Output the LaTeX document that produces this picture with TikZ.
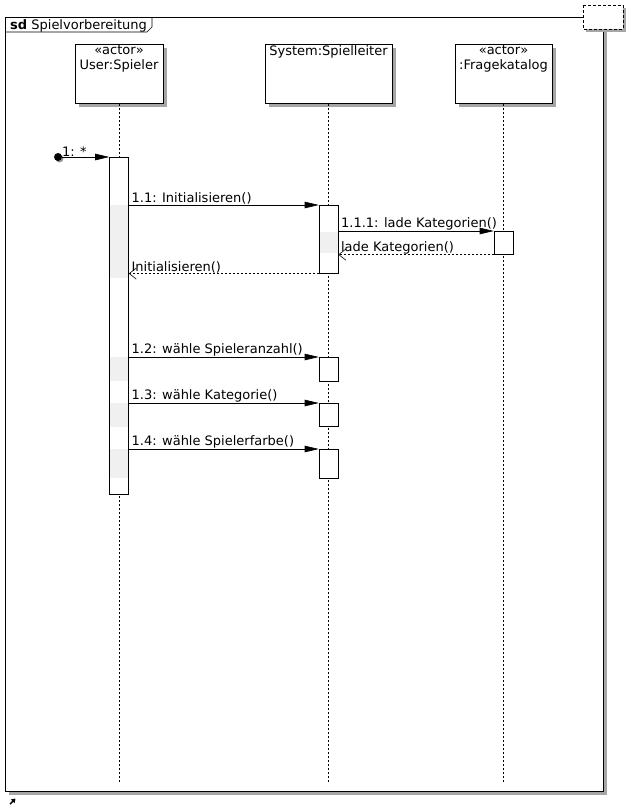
\documentclass[tikz,border=0pt]{standalone}
\usepackage{fontspec}
\setmainfont{DejaVu Sans}
\usetikzlibrary{arrows.meta, shadows}

\begin{document}
\begin{tikzpicture}[
      x=1pt, y=-1pt,
      font=\fontsize{13}{15}\selectfont,
      >={Triangle[length=14pt,width=6.5pt]},
      shade box/.style={drop shadow={shadow xshift=4pt,shadow yshift=-4pt,fill=black!35,opacity=1}},
      frame line/.style={draw,line width=1pt},
      head/.style={draw,fill=white,line width=0.6pt,inner sep=0,anchor=north,minimum height=59pt,shade box},
      head text/.style={anchor=north,align=center,inner sep=1.5pt},
      lifeline/.style={dash pattern=on 2pt off 2pt,line width=0.6pt},
      act/.style={draw,fill=white,line width=0.6pt,minimum width=19pt,inner sep=0,anchor=north},
      busy/.style={fill=black!6},
      call/.style={->,line width=0.6pt},
      reply/.style={-{Straight Barb[length=7pt,width=11pt]},dash pattern=on 2pt off 2pt,line width=0.6pt},
      msg/.style={anchor=south west,inner sep=0.5pt,xshift=2pt}
      ]
      \useasboundingbox (0,0) rectangle (628,806);
      % frame
      \draw [frame line,fill=white,shade box] (5,17) rectangle (603,791);
      \draw [line width=0.6pt] (5,32) -- (147,32) -- (152,27) -- (152,17);
      \node [anchor=base west,inner sep=0] (title) at (10,29) {\textbf{sd} Spielvorbereitung};
      \draw [dash pattern=on 3pt off 2pt,line width=0.6pt,fill=white,
             drop shadow={shadow xshift=3pt,shadow yshift=-3pt,fill=black!35,opacity=1}] (583,5) rectangle (623,29);
      % heads
      \node [head,minimum width=88pt] (user) at (119,44) {};
      \node [head text] (user text) at (user.north) {«actor»\\User:Spieler};
      \node [head,minimum width=127pt] (sys) at (328.5,44) {};
      \node [head text] (sys text) at (sys.north) {System:Spielleiter};
      \node [head,minimum width=97pt] (fk) at (503.5,44) {};
      \node [head text] (fk text) at (fk.north) {«actor»\\:Fragekatalog};
      % lifelines
      \coordinate (user end) at (119,782);
      \coordinate (sys end) at (328.5,782);
      \coordinate (fk end) at (503.5,782);
      \draw [lifeline] (user.south) -- (user end);
      \draw [lifeline] (sys.south) -- (sys end);
      \draw [lifeline] (fk.south) -- (fk end);
      % activations
      \node [act,minimum height=337pt] (userAct) at (119,157) {};
      \node [act,minimum height=68pt] (sysAct1) at (328.5,205) {};
      \node [act,minimum height=23pt] (fkAct) at (503.5,231) {};
      \node [act,minimum height=24pt] (sysAct2) at (328.5,357) {};
      \node [act,minimum height=23pt] (sysAct3) at (328.5,403) {};
      \node [act,minimum height=29pt] (sysAct4) at (328.5,449) {};
      % busy parts
      \foreach \a/\b in {205/278,357/381,403/427,449/478} {
          \fill [busy] (110.3,\a) rectangle (128.1,\b);
      }
      \fill [busy] (320,232) rectangle (337.5,253);
      % messages
      \node [circle,fill=black,inner sep=0,minimum size=8pt,
             drop shadow={shadow xshift=1.5pt,shadow yshift=-1.5pt,fill=black!40,opacity=1}] (found) at (58,157) {};
      \draw [call] (found) -- (userAct.north west) node [msg,pos=0,xshift=-3pt] {1: *};
      \draw [call] (userAct.east |- sysAct1.north) -- (sysAct1.north west) node [msg,pos=0] {1.1: Initialisieren()};
      \draw [call] (sysAct1.east |- fkAct.north) -- (fkAct.north west) node [msg,pos=0] {1.1.1: lade Kategorien()};
      \draw [reply] (fkAct.south west) -- (sysAct1.east |- fkAct.south) node [msg,pos=1] {lade Kategorien()};
      \draw [reply] (sysAct1.south west) -- (userAct.east |- sysAct1.south) node [msg,pos=1] {Initialisieren()};
      \draw [call] (userAct.east |- sysAct2.north) -- (sysAct2.north west) node [msg,pos=0] {1.2: wähle Spieleranzahl()};
      \draw [call] (userAct.east |- sysAct3.north) -- (sysAct3.north west) node [msg,pos=0] {1.3: wähle Kategorie()};
      \draw [call] (userAct.east |- sysAct4.north) -- (sysAct4.north west) node [msg,pos=0] {1.4: wähle Spielerfarbe()};
      % corner mark
      \draw [line width=1.4pt,-{Triangle[length=4pt,width=5pt]}] (10,804) -- (15.5,798.5);
    \end{tikzpicture}
\end{document}
